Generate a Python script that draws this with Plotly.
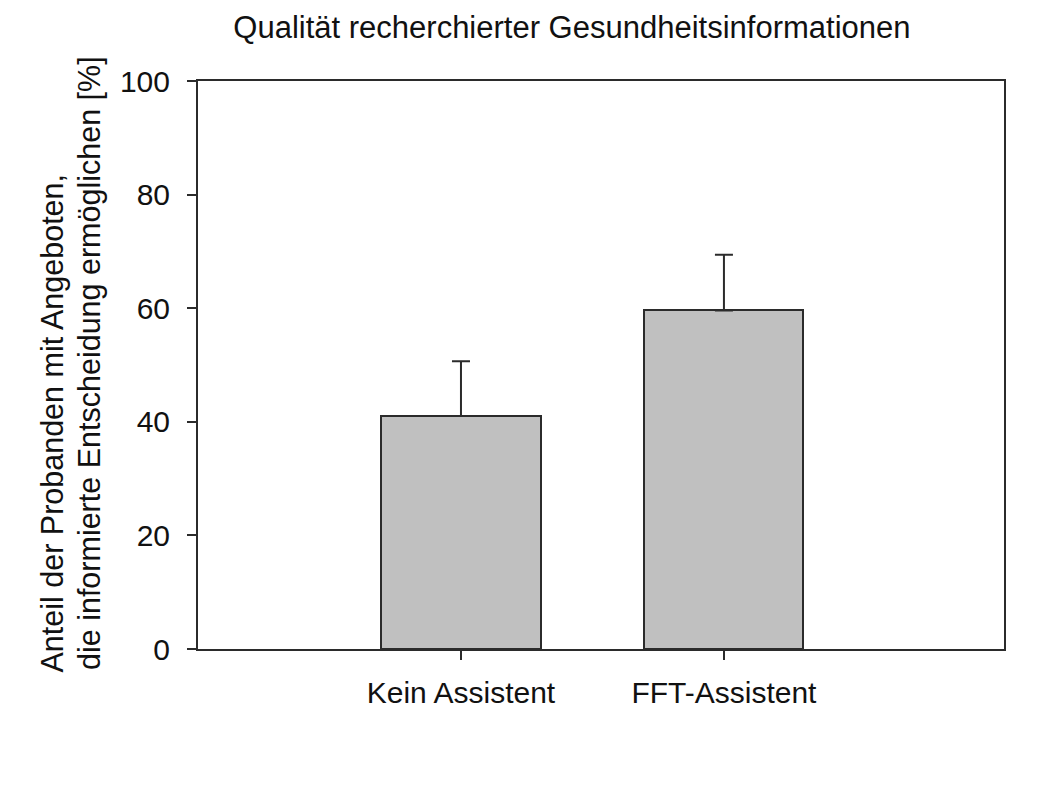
import plotly.graph_objects as go

categories = ["Kein Assistent", "FFT-Assistent"]
values = [41.0, 59.6]
errors = [9.65, 9.8]
y_ticks = [0, 20, 40, 60, 80, 100]

title = "Qualität recherchierter Gesundheitsinformationen"
y_title_lines = ["Anteil der Probanden mit Angeboten,",
                 "die informierte Entscheidung ermöglichen [%]"]

font_family = "Liberation Sans, Arial, sans-serif"
line_col = "#2b2b2b"
text_col = "#111111"

x_pos = list(range(len(categories)))

fig = go.Figure()
fig.add_trace(go.Bar(
    x=x_pos, y=values, width=0.605,
    marker=dict(color="#c0c0c0", line=dict(color=line_col, width=2)),
    error_y=dict(type="data", array=errors, symmetric=False, arrayminus=[0, 0],
                 color=line_col, thickness=2, width=9),
))

ytitle_x = [-0.1799, -0.1352]
ytitle_y = [-0.0458, -0.0405]
annotations = [
    dict(text=t, textangle=-90, xref="paper", yref="paper",
         x=xx, y=yy, xanchor="center", yanchor="bottom",
         showarrow=False, font=dict(family=font_family, size=30.5, color=text_col))
    for t, xx, yy in zip(y_title_lines, ytitle_x, ytitle_y)
]

fig.update_layout(
    width=1060, height=788,
    paper_bgcolor="white", plot_bgcolor="white",
    margin=dict(l=190, r=64, t=73, b=147),
    title=dict(text=title, x=0.532, xanchor="center", y=0.976, yanchor="middle",
               font=dict(family=font_family, size=31, color=text_col)),
    font=dict(family=font_family, size=30, color=text_col),
    showlegend=False,
    bargap=0,
    annotations=annotations,
)
fig.update_xaxes(
    range=[-1.0, 2.065], tickmode="array", tickvals=x_pos, ticktext=categories,
    ticks="outside", ticklen=9, tickwidth=2, tickcolor=line_col,
    showline=True, linecolor=line_col, linewidth=2, mirror=True,
    showgrid=False, zeroline=False, tickfont=dict(size=30),
    ticklabelstandoff=7,
)
fig.update_yaxes(
    range=[0, 100], tickmode="array", tickvals=y_ticks,
    ticks="outside", ticklen=9, tickwidth=2, tickcolor=line_col,
    showline=True, linecolor=line_col, linewidth=2, mirror=True,
    showgrid=False, zeroline=False, tickfont=dict(size=30),
    ticklabelstandoff=11,
)

fig.write_html("out.html")
